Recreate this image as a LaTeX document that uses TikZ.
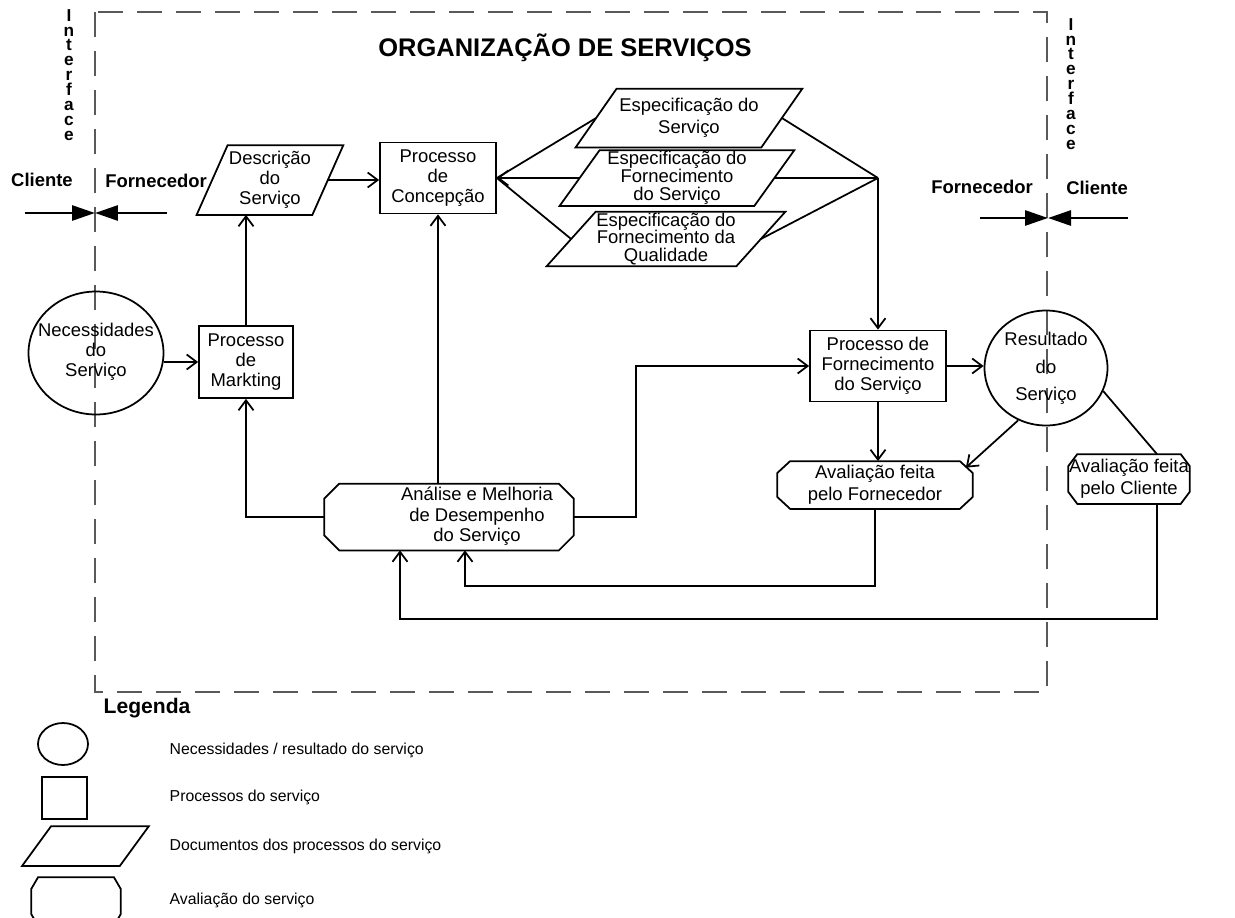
\documentclass[tikz,border=0pt]{standalone}
\usepackage{fontspec}
\setmainfont{Liberation Sans}
\usetikzlibrary{shapes.geometric,arrows.meta}

% paralelogramo de documento sobre um no retangular
\newcommand{\docshape}[2]{\draw (#1.south west) -- ([xshift=#2]#1.north west) -- (#1.north east) -- ([xshift=-#2]#1.south east) -- cycle;}
% octogono de avaliacao sobre um no retangular
\newcommand{\evalshape}[3]{\draw ([xshift=#2]#1.north west) -- ([xshift=-#2]#1.north east) -- ([yshift=-#3]#1.north east)
    -- ([yshift=#3]#1.south east) -- ([xshift=-#2]#1.south east) -- ([xshift=#2]#1.south west)
    -- ([yshift=#3]#1.south west) -- ([yshift=-#3]#1.north west) -- cycle;}
% texto centrado em varias linhas
\newcommand{\ttext}[1]{\begin{tabular}{@{}c@{}}#1\end{tabular}}
\newcommand{\ztext}[1]{\makebox[0pt]{\ttext{#1}}}

\begin{document}
\begin{tikzpicture}[x=0.02cm,y=-0.02cm,line width=1pt,
    font=\fontsize{10.5}{11.5}\selectfont,
    arr/.style={-{Straight Barb[length=0.2cm,width=0.3cm]}},
    proc/.style={draw,rectangle,align=center,inner sep=0pt},
    need/.style={draw,ellipse,inner sep=0pt,text height=0.18cm,text depth=0pt},
    doc/.style={rectangle,align=center,inner sep=0pt},
    eval/.style={rectangle,align=center,inner sep=0pt,font=\fontsize{10.5}{12.3}\selectfont},
    bow/.style={line width=1.6pt,-{Triangle[length=0.46cm,width=0.3cm]}},
    lbl/.style={font=\bfseries\fontsize{10.5}{11.5}\selectfont},
    frame/.style={line width=0.6pt,gray!70!black,dash pattern=on 0.5cm off 0.28cm}]
    \useasboundingbox (0,0) rectangle (1235,917);

    % moldura da organizacao
    \draw[frame] (95,12) rectangle (1047,692);
    \node[font=\bfseries\fontsize{14.5}{16}\selectfont] (title) at (565,48) {ORGANIZAÇÃO DE SERVIÇOS};

    % interfaces
    \node[align=center,font=\bfseries\fontsize{9.8}{8.5}\selectfont] (ifl) at (69,75) {I\\n\\t\\e\\r\\f\\a\\c\\e};
    \node[align=center,font=\bfseries\fontsize{9.8}{8.5}\selectfont] (ifr) at (1071,84) {I\\n\\t\\e\\r\\f\\a\\c\\e};
    \node[lbl] (cl1) at (42,180) {Cliente};
    \node[lbl] (fo1) at (156,181) {Fornecedor};
    \node[lbl] (fo2) at (982,187) {Fornecedor};
    \node[lbl] (cl2) at (1097,188) {Cliente};
    \coordinate (bl0) at (25,213);
    \coordinate (blc) at (95,213);
    \coordinate (bl1) at (167,213);
    \draw[bow] (bl0) -- (blc);
    \draw[bow] (bl1) -- (blc);
    \coordinate (br0) at (980,218);
    \coordinate (brc) at (1048,218);
    \coordinate (br1) at (1128,218);
    \draw[bow] (br0) -- (brc);
    \draw[bow] (br1) -- (brc);

    % processos e documentos
    \node[need,minimum width=2.7cm,minimum height=2.46cm] (nec) at (96,353) {\ztext{Necessidades\\do\\Serviço}};
    \node[proc,minimum width=1.88cm,minimum height=1.44cm] (mkt) at (246,362) {Processo\\de\\Markting};
    \node[doc,minimum width=2.9cm,minimum height=1.36cm] (desc) at (270,180) {Descrição\\do\\Serviço};
    \docshape{desc}{0.62cm}
    \node[proc,minimum width=2.32cm,minimum height=1.42cm] (conc) at (438,178) {Processo\\de\\Concepção};
    \node[doc,minimum width=4.5cm,minimum height=1.14cm,font=\fontsize{10.5}{12.5}\selectfont] (esp1) at (689,118) {Especificação do\\Serviço};
    \docshape{esp1}{0.82cm}
    \node[doc,minimum width=4.66cm,minimum height=1.08cm,font=\fontsize{10.5}{10.2}\selectfont] (esp2) at (677,178) {Especificação do\\Fornecimento\\do Serviço};
    \docshape{esp2}{0.8cm}
    \node[doc,minimum width=4.74cm,minimum height=1.04cm,font=\fontsize{10.5}{10.2}\selectfont] (esp3) at (666,239) {Especificação do\\Fornecimento da\\Qualidade};
    \docshape{esp3}{0.98cm}
    \node[proc,minimum width=2.72cm,minimum height=1.42cm] (forn) at (878,366) {Processo de\\Fornecimento\\do Serviço};
    \node[need,minimum width=2.46cm,minimum height=2.3cm,font=\fontsize{10.5}{15.5}\selectfont] (res) at (1046,368) {\ztext{Resultado\\do\\Serviço}};
    \node[eval,minimum width=3.88cm,minimum height=0.92cm] (avf) at (875,485) {Avaliação feita\\pelo Fornecedor};
    \evalshape{avf}{0.26cm}{0.24cm}
    \node[eval,minimum width=2.28cm,minimum height=0.96cm] (avc) at (1129,479) {Avaliação feita\\pelo Cliente};
    \evalshape{avc}{0.18cm}{0.24cm}
    \node[eval,minimum width=4.96cm,minimum height=1.3cm,font=\fontsize{10.5}{11.5}\selectfont] (ana) at (449,517)
        {\hspace*{1.12cm}\ttext{Análise e Melhoria\\de Desempenho\\do Serviço}};
    \evalshape{ana}{0.3cm}{0.3cm}

    % ligacoes
    \draw[arr] (mkt.west -| nec.east) -- (mkt.west);
    \draw[arr] (mkt.north) -- (mkt.north |- desc.south);
    \draw[arr] ([xshift=-0.31cm]desc.east) -- (desc.east -| conc.west);
    \draw[arr] ([xshift=0.4cm]esp2.west) -- (conc.east);
    \draw (conc.east) -- ([xshift=0.41cm]esp1.west);
    \draw (conc.east) -- ([xshift=0.49cm]esp3.west);
    \coordinate (jn) at (forn.north |- conc.east);
    \draw ([xshift=-0.41cm]esp1.east) -- (jn);
    \draw ([xshift=-0.4cm]esp2.east) -- (jn);
    \draw ([xshift=-0.49cm]esp3.east) -- (jn);
    \draw[arr] (jn) -- (forn.north);
    \draw[arr] (ana.west) -| (mkt.south);
    \draw[arr] (ana.north -| conc.south) -- (conc.south);
    \draw[arr] (ana.east) -- ++(62,0) |- (forn.west);
    \draw[arr] (forn.east) -- (forn.east -| res.west);
    \draw[arr] (forn.south) -- (forn.south |- avf.north);
    \draw[arr] (res.-118) -- ([xshift=-0.14cm,yshift=-0.13cm]avf.north east);
    \draw (res.-22) -- ([xshift=0.56cm]avc.north);
    \draw[arr] (avf.south) -- ++(0,77) -| ([xshift=0.32cm]ana.south);
    \draw[arr] ([xshift=0.56cm]avc.south) -- ++(0,115) -| ([xshift=-0.98cm]ana.south);

    % legenda
    \node[anchor=west,font=\bfseries\fontsize{12}{14}\selectfont] (leg) at (97,708) {Legenda};
    \node[need,minimum width=1cm,minimum height=0.84cm] (lg1) at (63,744) {};
    \node[proc,minimum width=0.9cm,minimum height=0.84cm] (lg2) at (64.5,798) {};
    \node[doc,minimum width=2.5cm,minimum height=0.76cm] (lg3) at (85.5,846) {};
    \docshape{lg3}{0.58cm}
    \node[eval,minimum width=1.76cm,minimum height=0.94cm] (lg4) at (76,901.5) {};
    \evalshape{lg4}{0.14cm}{0.24cm}
    \node[anchor=west,font=\fontsize{9}{11}\selectfont] (lt1) at (163,750) {Necessidades / resultado do serviço};
    \node[anchor=west,font=\fontsize{9}{11}\selectfont] (lt2) at (163,797) {Processos do serviço};
    \node[anchor=west,font=\fontsize{9}{11}\selectfont] (lt3) at (163,846) {Documentos dos processos do serviço};
    \node[anchor=west,font=\fontsize{9}{11}\selectfont] (lt4) at (163,900) {Avaliação do serviço};
\end{tikzpicture}
\end{document}
